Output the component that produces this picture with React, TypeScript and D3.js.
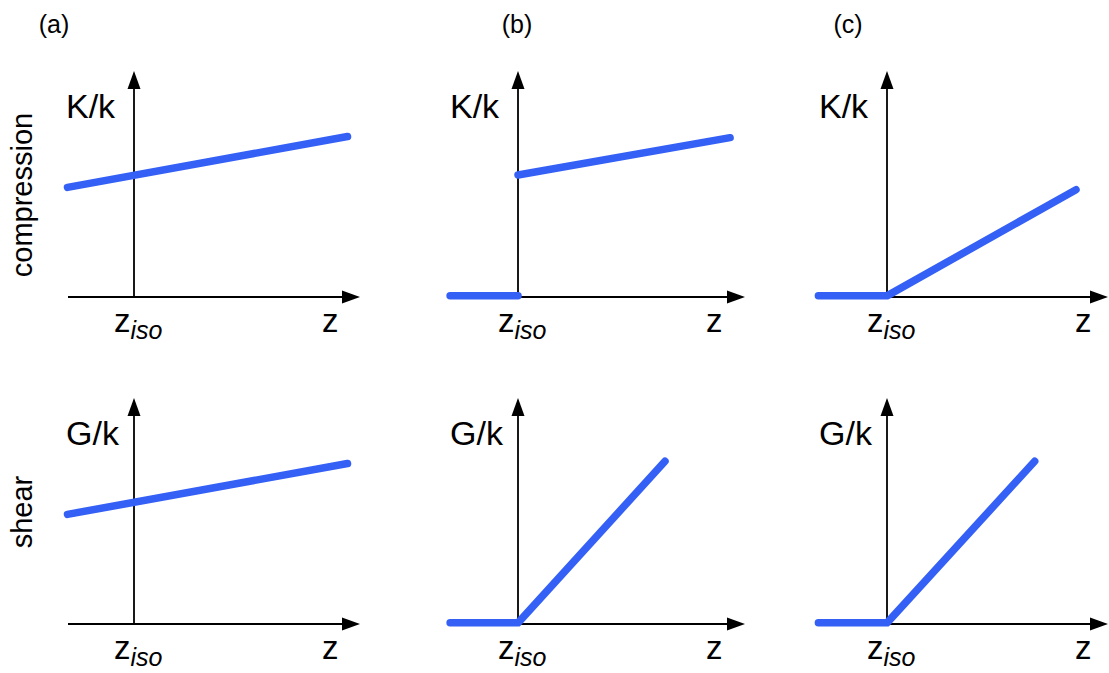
import React from "react";
import * as d3 from "d3";

// ---- data (z relative to z_iso, modulus in arbitrary units) ----
const columnLabels = ["(a)", "(b)", "(c)"];
const rowLabels = ["compression", "shear"];
const rowYLabels = ["K/k", "G/k"];

// each panel: list of segments, each segment list of [z, value]
const compA: [number, number][][] = [[[-0.95, 4.85], [3.05, 7.1]]];
const compB: [number, number][][] = [
  [[-0.97, 0.05], [0, 0.05]],
  [[0, 5.4], [3.03, 7.05]],
];
const compC: [number, number][][] = [[[-0.98, 0.05], [0, 0.05], [2.7, 4.75]]];
const shearA: [number, number][][] = [[[-0.95, 4.85], [3.05, 7.1]]];
const shearB: [number, number][][] = [[[-0.97, 0.05], [0, 0.05], [2.1, 7.2]]];
const shearC: [number, number][][] = [[[-0.98, 0.05], [0, 0.05], [2.11, 7.2]]];

const panels = [
  [compA, compB, compC],
  [shearA, shearB, shearC],
];

// ---- layout ----
const W = 1109;
const H = 673;
const colAxisX = [134, 518, 887];
const colAxisStart = [-66, -68, -69];
const colAxisEnd = [226, 227, 221];
const rowAxisY = [297, 624];
const yAxisLen = 226;
const zUnit = 70;
const vUnit = 22.6;
const blue = "#3460f6";
const font = "'Liberation Sans', Arial, Helvetica, sans-serif";

function Arrow({ x, y, dir }: { x: number; y: number; dir: "up" | "right" }) {
  const L = 18;
  const hw = 6.5;
  const d =
    dir === "up"
      ? `M${x},${y} L${x - hw},${y + L} L${x + hw},${y + L} Z`
      : `M${x},${y} L${x - L},${y - hw} L${x - L},${y + hw} Z`;
  return <path d={d} fill="#000" />;
}

function Panel({ r, c }: { r: number; c: number }) {
  const ax = colAxisX[c];
  const ay = rowAxisY[r];
  const xs = d3.scaleLinear().domain([0, 1]).range([ax, ax + zUnit]);
  const ys = d3.scaleLinear().domain([0, 1]).range([ay, ay - vUnit]);
  const line = d3
    .line<[number, number]>()
    .x((d) => xs(d[0]))
    .y((d) => ys(d[1]));
  const segs = panels[r][c];
  return (
    <g>
      {/* axes */}
      <line x1={ax + colAxisStart[c]} x2={ax + colAxisEnd[c] - 10} y1={ay} y2={ay} stroke="#000" strokeWidth={1.8} />
      <line x1={ax} x2={ax} y1={ay} y2={ay - yAxisLen + 10} stroke="#000" strokeWidth={1.8} />
      <Arrow x={ax + colAxisEnd[c]} y={ay} dir="right" />
      <Arrow x={ax} y={ay - yAxisLen} dir="up" />
      {/* curves */}
      {segs.map((s, i) => (
        <path
          key={i}
          d={line(s) || ""}
          fill="none"
          stroke={blue}
          strokeWidth={7.5}
          strokeLinecap="round"
          strokeLinejoin="round"
        />
      ))}
      {/* labels */}
      <text x={ax - 68} y={ay - 179} fontSize={34} fontFamily={font} fill="#000">
        {rowYLabels[r]}
      </text>
      <text x={ax - 20} y={ay + 35} fontSize={33} fontFamily={font} fill="#000">
        z
        <tspan fontStyle="italic" fontSize={25} dy={7}>
          iso
        </tspan>
      </text>
      <text x={ax + 188} y={ay + 35} fontSize={33} fontFamily={font} fill="#000">
        z
      </text>
    </g>
  );
}

export default function App() {
  const colLabelX = [54, 517, 848];
  const rowLabelY = [195, 512];
  return (
    <svg
      width={W}
      height={H}
      viewBox={`0 0 ${W} ${H}`}
      style={{ position: "absolute", left: 0, top: 0, background: "#fff" }}
    >
      <rect width={W} height={H} fill="#fff" />
      {columnLabels.map((l, i) => (
        <text key={l} x={colLabelX[i]} y={33} fontSize={25} fontFamily={font} textAnchor="middle">
          {l}
        </text>
      ))}
      {rowLabels.map((l, i) => (
        <text
          key={l}
          transform={`translate(32,${rowLabelY[i]}) rotate(-90)`}
          fontSize={29}
          fontFamily={font}
          textAnchor="middle"
        >
          {l}
        </text>
      ))}
      {[0, 1].map((r) => [0, 1, 2].map((c) => <Panel key={`${r}-${c}`} r={r} c={c} />))}
    </svg>
  );
}
